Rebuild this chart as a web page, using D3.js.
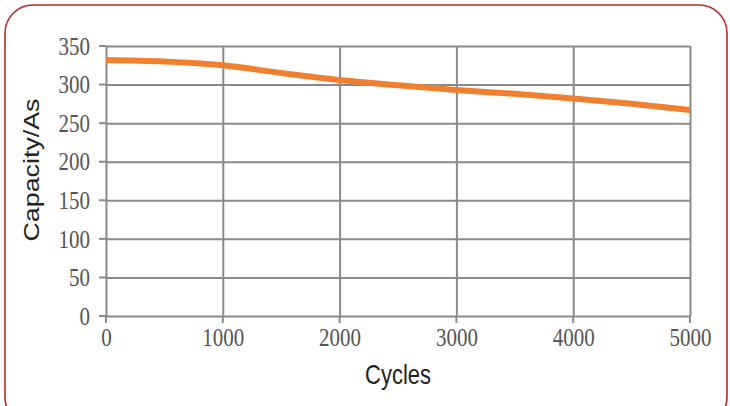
<!DOCTYPE html>
<html><head><meta charset="utf-8">
<script src="https://cdn.jsdelivr.net/npm/d3@7"></script>
<style>body{margin:0;background:#fff;}svg{display:block;}</style>
</head><body>
<script>
const cycles = [0, 500, 1000, 1500, 2000, 2500, 3000, 3500, 4000, 4500, 5000];
const capacity = [332, 330, 325, 315, 306, 299, 293, 288, 282, 275, 267];
const xTicks = [0, 1000, 2000, 3000, 4000, 5000];
const yTicks = [0, 50, 100, 150, 200, 250, 300, 350];

const W = 730, H = 406;
const sy = 1.22; // vertical stretch of text in the reference
const svg = d3.select("body").append("svg").attr("width", W).attr("height", H);
svg.append("rect").attr("x", 5).attr("y", 5).attr("width", 722).attr("height", 420)
  .attr("rx", 28).attr("fill", "#fff").attr("stroke", "#c1272d").attr("stroke-width", 1.6);

const x = d3.scaleLinear().domain([0, 5000]).range([106, 690]);
const y = d3.scaleLinear().domain([0, 350]).range([316, 46]);
const gridColor = "#8a8a8a";
const fmt = d3.format("d");

const gy = svg.append("g").attr("transform", "translate(106,0)")
  .call(d3.axisLeft(y).tickValues(yTicks).tickFormat(fmt).tickSizeInner(-(690-106)).tickPadding(16));
const gx = svg.append("g").attr("transform", "translate(0,316)")
  .call(d3.axisBottom(x).tickValues(xTicks).tickFormat(fmt).tickSizeInner(-(316-46)).tickPadding(14));
[gx, gy].forEach(g => {
  g.select(".domain").remove();
  g.selectAll("line").attr("stroke", gridColor).attr("stroke-width", 2);
  g.selectAll("text").attr("font-family", "'Liberation Serif', 'Times New Roman', serif")
    .attr("font-size", 21).attr("fill", "#555").attr("transform", `scale(1,${sy})`);
});
gx.selectAll("text").attr("y", 12 / sy);
// tick stubs outside the plot
svg.append("g").selectAll("line").data(yTicks).join("line")
  .attr("x1", 99).attr("x2", 106).attr("y1", d => y(d)).attr("y2", d => y(d))
  .attr("stroke", gridColor).attr("stroke-width", 2);
svg.append("g").selectAll("line").data(xTicks).join("line")
  .attr("x1", d => x(d)).attr("x2", d => x(d)).attr("y1", 316).attr("y2", 323)
  .attr("stroke", gridColor).attr("stroke-width", 2);

const line = d3.line().x((d, i) => x(cycles[i])).y(d => y(d)).curve(d3.curveMonotoneX);
svg.append("path").datum(capacity).attr("d", line).attr("fill", "none")
  .attr("stroke", "#f08030").attr("stroke-width", 6);

svg.append("text").attr("transform", `translate(398,384) scale(1,${sy})`).attr("text-anchor", "middle")
  .attr("font-family", "'Liberation Sans', Arial, sans-serif").attr("font-size", 22)
  .attr("fill", "#222").text("Cycles");
svg.append("text").attr("transform", `translate(39,170) rotate(-90) scale(${sy},1)`).attr("text-anchor", "middle")
  .attr("font-family", "'Liberation Sans', Arial, sans-serif").attr("font-size", 22)
  .attr("fill", "#222").text("Capacity/As");
</script>
</body></html>
